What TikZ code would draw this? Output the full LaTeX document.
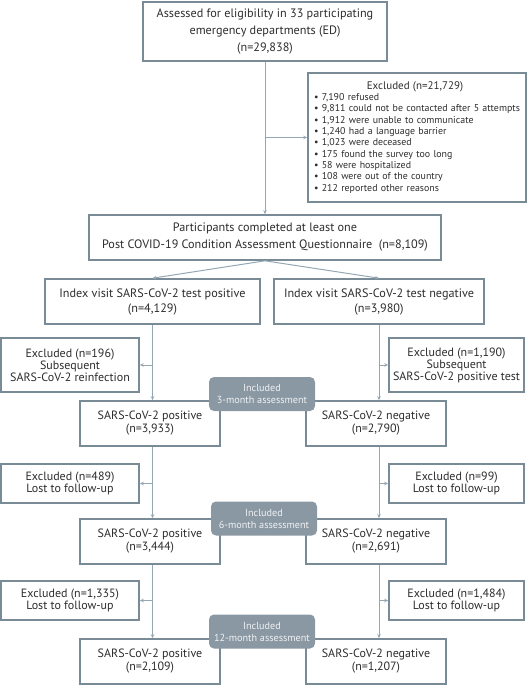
\documentclass[tikz,border=0pt]{standalone}
\usepackage{fontspec}
\setmainfont{PT Sans}
\usetikzlibrary{arrows.meta}
\definecolor{boxc}{RGB}{122,139,152}
\definecolor{linec}{RGB}{150,167,180}
\definecolor{incf}{RGB}{138,152,163}
\definecolor{txt}{RGB}{45,45,45}
\definecolor{inct}{RGB}{240,242,244}
\begin{document}
\begin{tikzpicture}[x=1pt,y=-1pt,
  box/.style={draw=boxc,line width=1.6pt,fill=white,align=center,text=txt,
    font=\fontsize{12}{13}\selectfont,inner sep=0pt},
  exbox/.style={box,font=\fontsize{12}{12}\selectfont},
  inc/.style={fill=incf,rounded corners=5pt,text=inct,align=center,
    font=\fontsize{10.2}{12}\selectfont,inner sep=0pt,minimum width=106pt,minimum height=34pt},
  conn/.style={draw=linec,line width=1pt},
  arr/.style={conn,-{Stealth[length=4pt,width=3.5pt]}}]
\useasboundingbox (0,0) rectangle (528,685);

% top
\node[box,minimum width=244pt,minimum height=59pt,font=\fontsize{12.2}{16.8}\selectfont] (top) at (265,31.5)
  {Assessed for eligibility in 33 participating\\emergency departments (ED)\\(n=29,838)};
\node[box,minimum width=218pt,minimum height=129pt,align=left,text width=210pt,
  font=\fontsize{9.9}{11.3}\selectfont] (ex0) at (417,137.5)
  {\makebox[206pt]{\fontsize{11}{11}\selectfont Excluded (n=21,729)}\\[-0.5pt]
   \hspace*{2pt}\textbullet\ 7,190 refused\\
   \hspace*{2pt}\textbullet\ 9,811 could not be contacted after 5 attempts\\
   \hspace*{2pt}\textbullet\ 1,912 were unable to communicate\\
   \hspace*{2pt}\textbullet\ 1,240 had a language barrier\\
   \hspace*{2pt}\textbullet\ 1,023 were deceased\\
   \hspace*{2pt}\textbullet\ 175 found the survey too long\\
   \hspace*{2pt}\textbullet\ 58 were hospitalized\\
   \hspace*{2pt}\textbullet\ 108 were out of the country\\
   \hspace*{2pt}\textbullet\ 212 reported other reasons};
\node[box,minimum width=352pt,minimum height=45pt,font=\fontsize{12.2}{17}\selectfont] (part) at (265,237.5)
  {Participants completed at least one\\Post COVID-19 Condition Assessment Questionnaire~~(n=8,109)};

% index
\node[box,minimum width=215pt,minimum height=45pt,font=\fontsize{12.2}{15}\selectfont] (ipos) at (152.5,301.5)
  {Index visit SARS-CoV-2 test positive\\(n=4,129)};
\node[box,minimum width=210pt,minimum height=45pt,font=\fontsize{12.2}{15}\selectfont] (ineg) at (379,301.5)
  {Index visit SARS-CoV-2 test negative\\(n=3,980)};

% 3-month
\node[exbox,minimum width=138pt,minimum height=54pt] (e1L) at (70,365)
  {Excluded (n=196)\\Subsequent\\SARS-CoV-2 reinfection};
\node[exbox,minimum width=135pt,minimum height=54pt] (e1R) at (456.5,365)
  {Excluded (n=1,190)\\Subsequent\\SARS-CoV-2 positive test};
\node[box,minimum width=140pt,minimum height=45pt] (p3) at (150,423.5)
  {SARS-CoV-2 positive\\(n=3,933)};
\node[box,minimum width=140pt,minimum height=45pt] (n3) at (376,423.5)
  {SARS-CoV-2 negative\\(n=2,790)};
\node[inc] (inc3) at (262,394) {Included\\3-month assessment};

% 6-month
\node[exbox,minimum width=138pt,minimum height=39pt] (e2L) at (70,483.5)
  {Excluded (n=489)\\Lost to follow-up};
\node[exbox,minimum width=135pt,minimum height=39pt] (e2R) at (456.5,483.5)
  {Excluded (n=99)\\Lost to follow-up};
\node[box,minimum width=140pt,minimum height=45pt] (p6) at (150,541.5)
  {SARS-CoV-2 positive\\(n=3,444)};
\node[box,minimum width=140pt,minimum height=45pt] (n6) at (376,541.5)
  {SARS-CoV-2 negative\\(n=2,691)};
\node[inc] (inc6) at (264,518.5) {Included\\6-month assessment};

% 12-month
\node[exbox,minimum width=138pt,minimum height=39pt] (e3L) at (70,600.5)
  {Excluded (n=1,335)\\Lost to follow-up};
\node[exbox,minimum width=135pt,minimum height=39pt] (e3R) at (456.5,600.5)
  {Excluded (n=1,484)\\Lost to follow-up};
\node[box,minimum width=140pt,minimum height=45pt] (p12) at (150,661.5)
  {SARS-CoV-2 positive\\(n=2,109)};
\node[box,minimum width=140pt,minimum height=45pt] (n12) at (376,661.5)
  {SARS-CoV-2 negative\\(n=1,207)};
\node[inc] (inc12) at (262,631.5) {Included\\12-month assessment};

% connectors
\draw[arr] (top.south) -- (part.north);
\draw[arr] (top.south |- ex0.west) -- (ex0.west);
\draw[arr] (part.south) -- (ipos.north);
\draw[arr] (part.south) -- (ineg.north);

\draw[arr] (ipos.south) -- (ipos.south |- p3.north);
\draw[arr] (ipos.south |- e1L.east) -- (e1L.east);
\draw[arr] (ineg.south) -- (ineg.south |- n3.north);
\draw[arr] (ineg.south |- e1R.west) -- (e1R.west);

\draw[arr] (ipos.south |- p3.south) -- (ipos.south |- p6.north);
\draw[arr] (ipos.south |- e2L.east) -- (e2L.east);
\draw[arr] (ineg.south |- n3.south) -- (ineg.south |- n6.north);
\draw[arr] (ineg.south |- e2R.west) -- (e2R.west);

\draw[arr] (ipos.south |- p6.south) -- (ipos.south |- p12.north);
\draw[arr] (ipos.south |- e3L.east) -- (e3L.east);
\draw[arr] (ineg.south |- n6.south) -- (ineg.south |- n12.north);
\draw[arr] (ineg.south |- e3R.west) -- (e3R.west);
\end{tikzpicture}
\end{document}
